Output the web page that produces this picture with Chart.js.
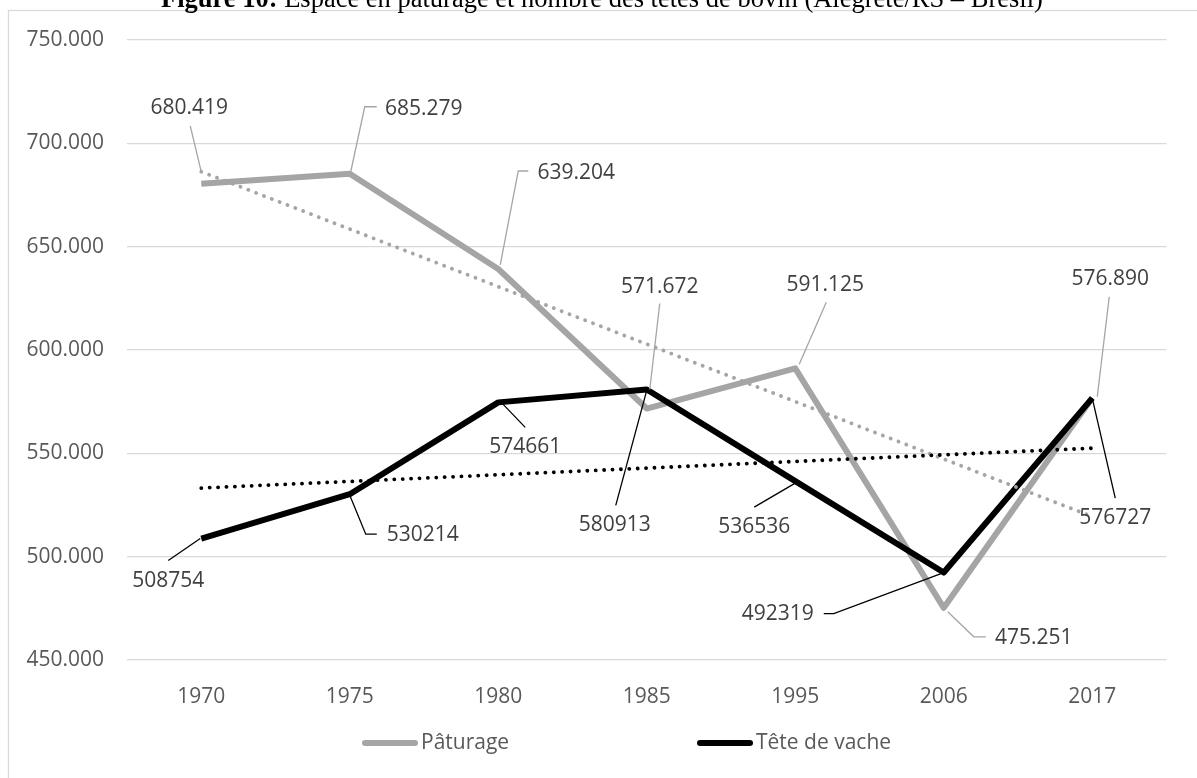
<!DOCTYPE html>
<html lang="fr">

<head>
    <meta charset="UTF-8">
    <title>Espace en pâturage et nombre des têtes de bovin</title>
    <script src="https://cdnjs.cloudflare.com/ajax/libs/Chart.js/4.4.1/chart.umd.min.js"></script>
    <style>
        body {
            margin: 0;
            background: #fff;
        }

        #chart {
            position: absolute;
            left: 0;
            top: 0;
        }
    </style>
</head>

<body>
    <canvas id="chart" width="1197" height="778"></canvas>

    <script>
        // Values
        const years = ['1970', '1975', '1980', '1985', '1995', '2006', '2017'];
        const paturage = [680419, 685279, 639204, 571672, 591125, 475251, 576890];
        const teteVache = [508754, 530214, 574661, 580913, 536536, 492319, 576727];
        // linear trend lines, end points only
        const trendPaturage = [686300, null, null, null, null, null, 519400];
        const trendTete = [533200, null, null, null, null, null, 552500];
        const yTicks = [450000, 500000, 550000, 600000, 650000, 700000, 750000];

        const FONT = '"Open Sans", "Noto Sans", sans-serif';
        const GREY = '#a5a5a5';

        // label placement: text centre offset and leader line, relative to the point
        const patLabelPos = [
            { dx: -12, dy: -76, leader: [[-11, -58], [0, -12]] },
            { dx: 74, dy: -65, leader: [[27, -67], [15, -67], [1, -2]] },
            { dx: 78, dy: -96, leader: [[30, -98], [20, -98], [2, -4]] },
            { dx: 13, dy: -122, leader: [[13, -105], [3, -19]] },
            { dx: 30, dy: -83, leader: [[31, -66], [4, -4]] },
            { dx: 90, dy: 30, leader: [[4, 4], [30, 29], [42, 29]] },
            { dx: 18, dy: -119, leader: [[17, -101], [5, -1]] }
        ];
        const teteLabelPos = [
            { dx: -33, dy: 42, leader: [[-33, 22], [-1, 0]] },
            { dx: 73, dy: 41, leader: [[27, 40], [16, 40], [0, 1]] },
            { dx: 27, dy: 45, leader: [[27, 25], [3, 0]] },
            { dx: -32, dy: 136, leader: [[-31, 116], [0, 1]] },
            { dx: -41, dy: 46, leader: [[-41, 26], [0, 2]] },
            { dx: -166, dy: 41, leader: [[-120, 41], [-110, 41], [0, 0]] },
            { dx: 23, dy: 120, leader: [[23, 100], [0, 0]] }
        ];

        function dotted(n) {
            return String(n).replace(/\B(?=(\d{3})+(?!\d))/g, '.');
        }

        // frame, title, data labels and legend
        const decorations = {
            id: 'decorations',
            beforeDraw(chart) {
                const ctx = chart.ctx;
                ctx.save();
                ctx.strokeStyle = '#d9d9d9';
                ctx.lineWidth = 1.3;
                ctx.strokeRect(8.5, 10.5, 1300, 900);

                ctx.fillStyle = '#000';
                ctx.textBaseline = 'alphabetic';
                ctx.textAlign = 'left';
                ctx.font = 'bold 26.5px "Liberation Serif", serif';
                const bold = 'Figure 10:';
                ctx.fillText(bold, 161, 7);
                const w = ctx.measureText(bold).width;
                ctx.font = '26.5px "Liberation Serif", serif';
                ctx.fillText(' Espace en pâturage et nombre des têtes de bovin (Alegrete/RS – Brésil)', 161 + w, 7);
                ctx.restore();
            },
            afterDatasetsDraw(chart) {
                const ctx = chart.ctx;
                ctx.save();
                const groups = [
                    { meta: chart.getDatasetMeta(0), values: paturage, pos: patLabelPos, color: GREY, fmt: dotted },
                    { meta: chart.getDatasetMeta(1), values: teteVache, pos: teteLabelPos, color: '#000', fmt: String }
                ];
                groups.forEach(g => {
                    g.meta.data.forEach((pt, i) => {
                        const p = g.pos[i];
                        ctx.strokeStyle = g.color;
                        ctx.lineWidth = 1.3;
                        ctx.beginPath();
                        p.leader.forEach(([lx, ly], k) => {
                            if (k === 0) ctx.moveTo(pt.x + lx, pt.y + ly);
                            else ctx.lineTo(pt.x + lx, pt.y + ly);
                        });
                        ctx.stroke();
                        ctx.fillStyle = '#404040';
                        ctx.font = '21px ' + FONT;
                        ctx.textAlign = 'center';
                        ctx.textBaseline = 'middle';
                        ctx.fillText(g.fmt(g.values[i]), pt.x + p.dx, pt.y + p.dy);
                    });
                });

                // legend
                const items = [
                    { text: 'Pâturage', color: GREY, x: 362 },
                    { text: 'Tête de vache', color: '#000', x: 697 }
                ];
                const ly = 743;
                items.forEach(it => {
                    ctx.strokeStyle = it.color;
                    ctx.lineWidth = 6;
                    ctx.lineCap = 'round';
                    ctx.beginPath();
                    ctx.moveTo(it.x + 3, ly);
                    ctx.lineTo(it.x + 53, ly);
                    ctx.stroke();
                    ctx.fillStyle = '#595959';
                    ctx.font = '21px ' + FONT;
                    ctx.textAlign = 'left';
                    ctx.textBaseline = 'middle';
                    ctx.fillText(it.text, it.x + 59, ly);
                });
                ctx.restore();
            }
        };

        new Chart(document.getElementById('chart'), {
            type: 'line',
            data: {
                labels: years,
                datasets: [
                    {
                        label: 'Pâturage',
                        data: paturage,
                        borderColor: GREY,
                        borderWidth: 6,
                        borderJoinStyle: 'round',
                        pointRadius: 0,
                        order: 4
                    },
                    {
                        label: 'Tête de vache',
                        data: teteVache,
                        borderColor: '#000',
                        borderWidth: 6,
                        borderJoinStyle: 'round',
                        pointRadius: 0,
                        order: 3
                    },
                    {
                        label: 'Linéaire (Pâturage)',
                        data: trendPaturage,
                        borderColor: GREY,
                        borderWidth: 3.8,
                        borderDash: [0.1, 8.3],
                        borderCapStyle: 'round',
                        spanGaps: true,
                        pointRadius: 0,
                        order: 2
                    },
                    {
                        label: 'Linéaire (Tête de vache)',
                        data: trendTete,
                        borderColor: '#000',
                        borderWidth: 3.8,
                        borderDash: [0.1, 8.3],
                        borderCapStyle: 'round',
                        spanGaps: true,
                        pointRadius: 0,
                        order: 1
                    }
                ]
            },
            options: {
                responsive: false,
                animation: false,
                layout: {
                    padding: { left: 0, top: 40, right: 30.5, bottom: 0 }
                },
                plugins: {
                    legend: { display: false },
                    tooltip: { enabled: false }
                },
                scales: {
                    x: {
                        offset: true,
                        grid: { display: false },
                        border: { display: false },
                        ticks: {
                            color: '#595959',
                            font: { family: FONT, size: 21 },
                            padding: 16,
                            maxRotation: 0
                        },
                        afterFit(scale) {
                            scale.height = 118;
                        }
                    },
                    y: {
                        min: yTicks[0],
                        max: yTicks[yTicks.length - 1],
                        afterBuildTicks(scale) {
                            scale.ticks = yTicks.map(v => ({ value: v }));
                        },
                        grid: {
                            color: '#d9d9d9',
                            lineWidth: 1.3,
                            drawTicks: false
                        },
                        border: { display: false },
                        ticks: {
                            color: '#595959',
                            font: { family: FONT, size: 21 },
                            padding: 23,
                            callback: v => dotted(v)
                        },
                        afterFit(scale) {
                            scale.width = 127;
                        }
                    }
                }
            },
            plugins: [decorations]
        });
    </script>
</body>

</html>
